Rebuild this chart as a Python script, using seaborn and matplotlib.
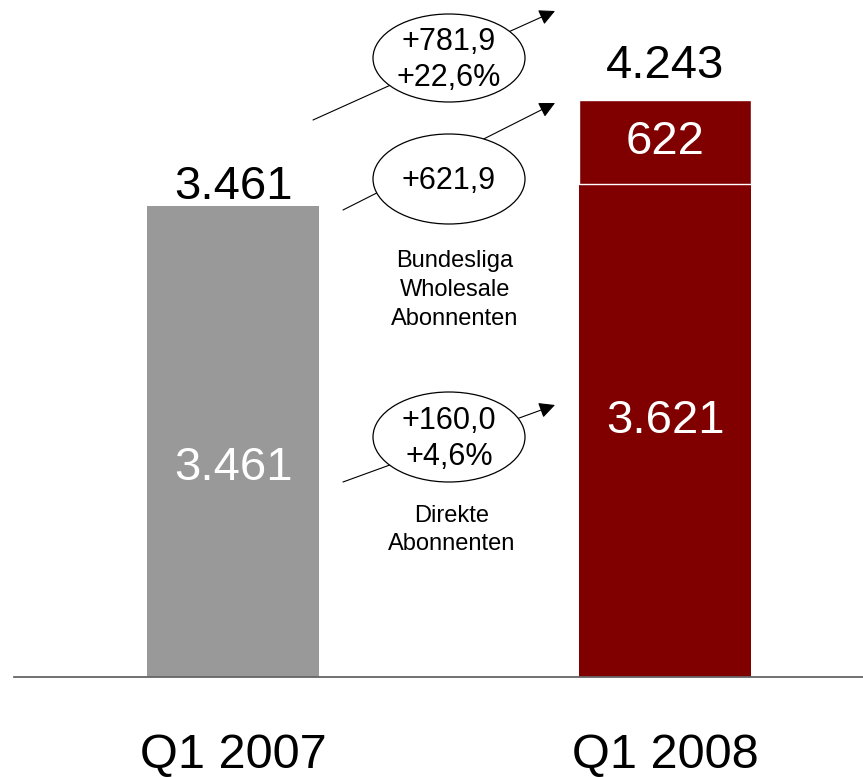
import matplotlib
matplotlib.use("Agg")
import matplotlib.pyplot as plt
import seaborn as sns
from matplotlib.patches import Ellipse

# Subscriber counts (thousands)
periods = ["Q1 2007", "Q1 2008"]
direkte = [3461, 3621]
wholesale = [0, 622]
totals = [3461, 4243]
bar_colors = ["#999999", "#800000"]

# Growth call-outs
growth_total = ["+781,9", "+22,6%"]
growth_wholesale = ["+621,9"]
growth_direkte = ["+160,0", "+4,6%"]
segment_names = ["Bundesliga\nWholesale\nAbonnenten", "Direkte\nAbonnenten"]


def fmt(v):
    return f"{v:,}".replace(",", ".")


sns.set_theme(style="white")
plt.rcParams["font.family"] = ["Liberation Sans", "DejaVu Sans"]
plt.rcParams["text.color"] = "black"

W, H = 863, 777
fig = plt.figure(figsize=(W / 100, H / 100), dpi=100)
ax = fig.add_axes([14 / W, 100 / H, 849 / W, 677 / H])

bar_w = 0.398
sns.barplot(x=periods, y=direkte, hue=periods, palette=bar_colors, width=bar_w,
            saturation=1, legend=False, linewidth=0, ax=ax)
sns.barplot(x=periods[1:], y=wholesale[1:], order=periods, color=bar_colors[1],
            bottom=direkte[1], width=bar_w, saturation=1,
            edgecolor="white", linewidth=1, ax=ax)

ax.set_xlim(-0.507, 1.458)
ax.set_ylim(0, 4975)
ax.set_yticks([])
ax.set_xlabel("")
ax.set_ylabel("")
sns.despine(ax=ax, left=True)
ax.spines["bottom"].set_color("#666666")
ax.spines["bottom"].set_linewidth(1.3)
ax.tick_params(axis="x", length=0, pad=40, labelsize=35, labelcolor="black")

# totals above the bars
total_offsets = [-2, 8]
for i, t in enumerate(totals):
    ax.annotate(fmt(t), xy=(i, t), xytext=(0, total_offsets[i]),
                textcoords="offset points", ha="center", va="bottom",
                fontsize=34, color="black")

# values inside the bars
ax.text(0, direkte[0] * 0.444, fmt(direkte[0]), ha="center", va="center",
        fontsize=34, color="white")
ax.text(1, direkte[1] * 0.52, fmt(direkte[1]), ha="center", va="center",
        fontsize=34, color="white")
ax.text(1, direkte[1] + wholesale[1] / 2, fmt(wholesale[1]), ha="center",
        va="center", fontsize=34, color="white")

# overlay in pixel units for the growth call-outs
ov = fig.add_axes([0, 0, 1, 1])
ov.set_xlim(0, W)
ov.set_ylim(H, 0)
ov.axis("off")

arrows = [((313, 120), (555, 11)), ((343, 210), (555, 103)), ((343, 482), (555, 405))]
for tail, tip in arrows:
    ov.annotate("", xy=tip, xytext=tail,
                arrowprops=dict(arrowstyle="-|>", color="black", lw=0.8,
                                mutation_scale=24, shrinkA=0, shrinkB=0),
                zorder=1)

bubbles = [((449, 58), 88, "\n".join(growth_total)),
           ((449, 179), 90, "\n".join(growth_wholesale)),
           ((449, 437), 90, "\n".join(growth_direkte))]
for (cx, cy), h, label in bubbles:
    ov.add_patch(Ellipse((cx, cy), 152, h, facecolor="white", edgecolor="black",
                         lw=0.9, zorder=2))
    ov.text(cx, cy + 2, label, ha="center", va="center", fontsize=22,
            linespacing=1.3, color="black", zorder=3)

ov.text(455, 290, segment_names[0], ha="center", va="center", fontsize=17,
        linespacing=1.4, color="black")
ov.text(452, 530, segment_names[1], ha="center", va="center", fontsize=17,
        linespacing=1.4, color="black")

fig.savefig("out.png", dpi=100)
